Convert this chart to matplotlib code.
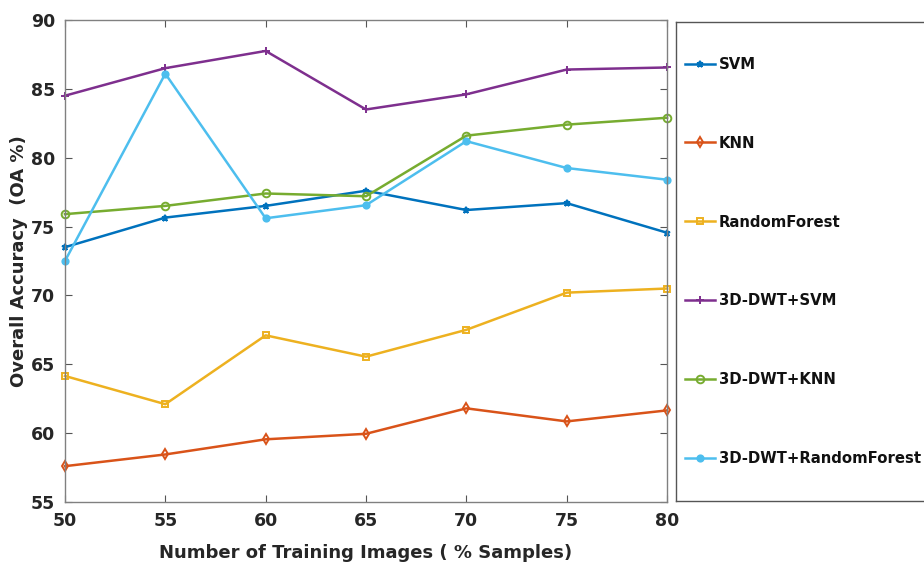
import matplotlib
matplotlib.use("Agg")
import matplotlib.pyplot as plt

train_pct = [50, 55, 60, 65, 70, 75, 80]

svm = [73.5, 75.65, 76.5, 77.6, 76.2, 76.7, 74.55]
knn = [57.6, 58.45, 59.55, 59.95, 61.8, 60.85, 61.65]
rf = [64.15, 62.1, 67.1, 65.55, 67.5, 70.2, 70.5]
dwt_svm = [84.5, 86.5, 87.75, 83.5, 84.6, 86.4, 86.55]
dwt_knn = [75.9, 76.5, 77.4, 77.2, 81.6, 82.4, 82.9]
dwt_rf = [72.5, 86.1, 75.6, 76.55, 81.2, 79.25, 78.4]

labels = ["SVM", "KNN", "RandomForest", "3D-DWT+SVM", "3D-DWT+KNN", "3D-DWT+RandomForest"]
colors = ["#0072BD", "#D95319", "#EDB120", "#7E2F8E", "#77AC30", "#4DBEEE"]

x_ticks = [50, 55, 60, 65, 70, 75, 80]
y_ticks = [55, 60, 65, 70, 75, 80, 85, 90]

plt.rcParams["font.family"] = "DejaVu Sans"
plt.rcParams["font.weight"] = "bold"

fig = plt.figure(figsize=(9.24, 5.69), dpi=100)
ax = fig.add_axes([0.0703, 0.1178, 0.6516, 0.8471])

series = [svm, knn, rf, dwt_svm, dwt_knn, dwt_rf]
# marker style per series: (marker, size, filled)
styles = [("*", 5, True), ("d", 5, False), ("s", 5, False),
          ("+", 6, True), ("o", 5.5, False), ("o", 4.5, True)]
lines = []
for vals, lab, col, (mk, ms, filled) in zip(series, labels, colors, styles):
    ln, = ax.plot(train_pct, vals, color=col, linewidth=1.8, marker=mk,
                  markersize=ms, markeredgewidth=1.4,
                  markerfacecolor=col if filled else "none",
                  markeredgecolor=col, label=lab, clip_on=False)
    lines.append(ln)

ax.set_xlim(50, 80)
ax.set_ylim(55, 90)
ax.set_xticks(x_ticks)
ax.set_yticks(y_ticks)
ax.tick_params(direction="in", length=5, width=0.8, top=True, right=True,
               labelsize=12.5, colors="#555555", labelcolor="#262626", pad=7)
for lbl in ax.get_xticklabels() + ax.get_yticklabels():
    lbl.set_fontweight("bold")
for sp in ax.spines.values():
    sp.set_color("#808080")
    sp.set_linewidth(1.0)

ax.set_xlabel("Number of Training Images ( % Samples)", fontsize=13,
              fontweight="bold", color="#262626", labelpad=10)
ax.set_ylabel("Overall Accuracy  (OA %)", fontsize=13,
              fontweight="bold", color="#262626", labelpad=2)

# legend panel, extends past the right edge of the figure
lax = fig.add_axes([0.7316, 0.1195, 0.30, 0.8418])
lax.set_xticks([])
lax.set_yticks([])
for sp in lax.spines.values():
    sp.set_color("#555555")
    sp.set_linewidth(1.0)
leg = lax.legend(handles=lines, loc="center left", bbox_to_anchor=(0.0, 0.5),
                 frameon=False, fontsize=10.7, labelspacing=4.3,
                 handlelength=2.0, handletextpad=0.3, borderaxespad=0.0,
                 borderpad=0.6)
for t in leg.get_texts():
    t.set_fontweight("bold")
    t.set_color("#111111")

fig.savefig("out.png", dpi=100)
